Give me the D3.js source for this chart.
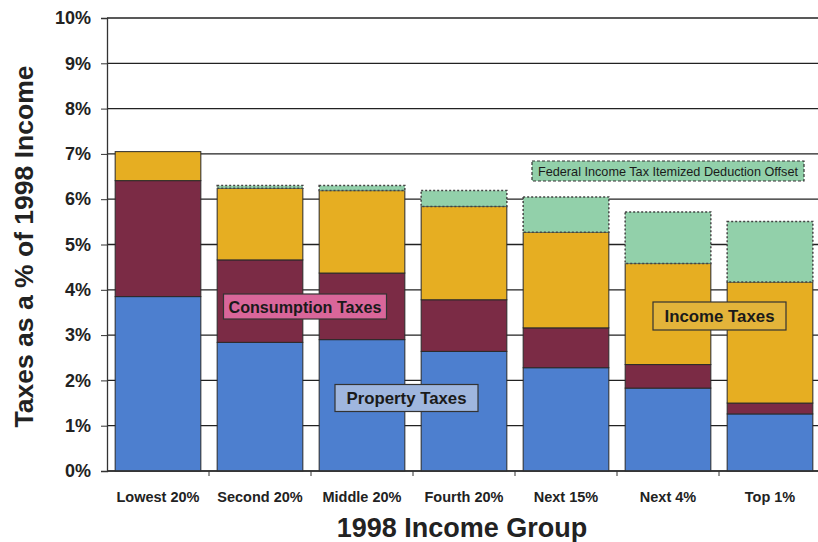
<!DOCTYPE html>
<html>
<head>
<meta charset="utf-8">
<script src="https://cdn.jsdelivr.net/npm/d3@7"></script>
<style>
  body { margin: 0; background: #fff; }
  svg { display: block; }
</style>
</head>
<body>
<div id="chart"></div>
<script>
// income groups along the x axis
const groups = ["Lowest 20%", "Second 20%", "Middle 20%", "Fourth 20%", "Next 15%", "Next 4%", "Top 1%"];

// tax shares, % of 1998 income
const propertyTaxes    = [3.85, 2.84, 2.90, 2.64, 2.28, 1.83, 1.26];
const consumptionTaxes = [2.56, 1.82, 1.47, 1.14, 0.88, 0.52, 0.24];
const incomeTaxes      = [0.64, 1.58, 1.82, 2.06, 2.11, 2.23, 2.67];
const deductionOffset  = [0.00, 0.06, 0.11, 0.35, 0.78, 1.14, 1.34];

const yTicks = [0, 1, 2, 3, 4, 5, 6, 7, 8, 9, 10];

const width = 818, height = 542;
const margin = {top: 18, right: -3, bottom: 71, left: 107};

const svg = d3.select("#chart").append("svg")
  .attr("width", width)
  .attr("height", height);

const x = d3.scaleBand()
  .domain(groups)
  .range([margin.left, width - margin.right])
  .paddingInner(0.16)
  .paddingOuter(0.08);

const y = d3.scaleLinear()
  .domain([0, 10])
  .range([height - margin.bottom, margin.top]);

// gridlines
svg.append("g")
  .selectAll("line")
  .data(yTicks)
  .enter().append("line")
  .attr("x1", margin.left)
  .attr("x2", width)
  .attr("y1", d => y(d))
  .attr("y2", d => y(d))
  .style("stroke", "#222")
  .style("stroke-width", 1.3);

// stack the series
const keys = ["property", "consumption", "income", "offset"];
const rows = groups.map((g, i) => ({
  group: g,
  property: propertyTaxes[i],
  consumption: consumptionTaxes[i],
  income: incomeTaxes[i],
  offset: deductionOffset[i]
}));
const stacked = d3.stack().keys(keys)(rows);

const fills = {
  property: "#4d7fcf",
  consumption: "#7b2b45",
  income: "#e6ae22",
  offset: "#92d0aa"
};

const layer = svg.append("g")
  .selectAll("g")
  .data(stacked)
  .enter().append("g")
  .style("fill", d => fills[d.key]);

layer.selectAll("rect")
  .data(d => d.map(v => Object.assign(v, {key: d.key})))
  .enter().append("rect")
  .filter(d => d[1] - d[0] > 0)
  .attr("x", d => x(d.data.group))
  .attr("width", x.bandwidth())
  .attr("y", d => y(d[1]))
  .attr("height", d => y(d[0]) - y(d[1]))
  .style("stroke", d => d.key === "offset" ? "#444" : "#2a2a2a")
  .style("stroke-width", d => d.key === "offset" ? 1.5 : 1)
  .style("stroke-dasharray", d => d.key === "offset" ? "2,2" : null);

// y axis
const yAxis = svg.append("g")
  .attr("transform", `translate(${margin.left},0)`)
  .call(d3.axisLeft(y).tickValues(yTicks).tickSize(6).tickPadding(10).tickFormat(d => d + "%"));
yAxis.select(".domain").style("stroke", "#333").style("stroke-width", 1.3);
yAxis.selectAll(".tick line").style("stroke", "#333");
yAxis.selectAll("text")
  .style("font-family", "Liberation Sans, Arial, sans-serif")
  .style("font-weight", "bold")
  .style("font-size", "18px")
  .style("fill", "#222");

// x axis: tick marks at band boundaries, labels centred under bars
const xAxis = svg.append("g")
  .attr("transform", `translate(0,${y(0)})`);
xAxis.append("line")
  .attr("x1", margin.left).attr("x2", width)
  .style("stroke", "#333").style("stroke-width", 1.3);
xAxis.selectAll(".sep")
  .data(groups.slice(1))
  .enter().append("line")
  .attr("class", "sep")
  .attr("x1", d => x(d) - x.step() * x.paddingInner() / 2)
  .attr("x2", d => x(d) - x.step() * x.paddingInner() / 2)
  .attr("y1", 0).attr("y2", 5)
  .style("stroke", "#333");
xAxis.selectAll("text")
  .data(groups)
  .enter().append("text")
  .attr("x", d => x(d) + x.bandwidth() / 2)
  .attr("y", 31)
  .attr("text-anchor", "middle")
  .style("font-family", "Liberation Sans, Arial, sans-serif")
  .style("font-weight", "bold")
  .style("font-size", "14.5px")
  .style("fill", "#222")
  .text(d => d);

// axis titles
svg.append("text")
  .attr("transform", `translate(33,${(margin.top + y(0)) / 2 + 2}) rotate(-90)`)
  .attr("text-anchor", "middle")
  .style("font-family", "Liberation Sans, Arial, sans-serif")
  .style("font-weight", "bold")
  .style("font-size", "26.5px")
  .style("fill", "#222")
  .text("Taxes as a % of 1998 Income");

svg.append("text")
  .attr("x", 462)
  .attr("y", 537)
  .attr("text-anchor", "middle")
  .style("font-family", "Liberation Sans, Arial, sans-serif")
  .style("font-weight", "bold")
  .style("font-size", "27px")
  .style("fill", "#222")
  .text("1998 Income Group");

// in-chart series labels (text squeezed to look like a narrow face)
const labels = [
  {text: "Consumption Taxes", cx: 305, cy: 306.5, w: 163, h: 25, tl: 153, fill: "#d9669a", size: 17, dash: null},
  {text: "Property Taxes", cx: 406.5, cy: 398, w: 143, h: 27, tl: 120, fill: "#9fb6de", size: 17, dash: null},
  {text: "Income Taxes", cx: 719.5, cy: 316, w: 133, h: 28, tl: 110, fill: "#e3b43a", size: 17, dash: null},
  {text: "Federal Income Tax Itemized Deduction Offset", cx: 668, cy: 171, w: 272, h: 20, tl: 260, fill: "#92d0aa", size: 13, dash: "3,2", narrow: true}
];

const lab = svg.append("g")
  .selectAll("g")
  .data(labels)
  .enter().append("g")
  .attr("transform", d => `translate(${d.cx},${d.cy})`);

lab.append("rect")
  .attr("x", d => -d.w / 2)
  .attr("y", d => -d.h / 2)
  .attr("width", d => d.w)
  .attr("height", d => d.h)
  .style("fill", d => d.fill)
  .style("stroke", "#333")
  .style("stroke-width", 1.2)
  .style("stroke-dasharray", d => d.dash);

lab.append("text")
  .attr("text-anchor", "middle")
  .attr("dy", "0.36em")
  .attr("textLength", d => d.tl)
  .attr("lengthAdjust", "spacingAndGlyphs")
  .style("font-family", "Liberation Sans, Arial, sans-serif")
  .style("font-weight", d => d.narrow ? "normal" : "bold")
  .style("font-size", d => d.size + "px")
  .style("fill", "#1a1a1a")
  .text(d => d.text);
</script>
</body>
</html>
